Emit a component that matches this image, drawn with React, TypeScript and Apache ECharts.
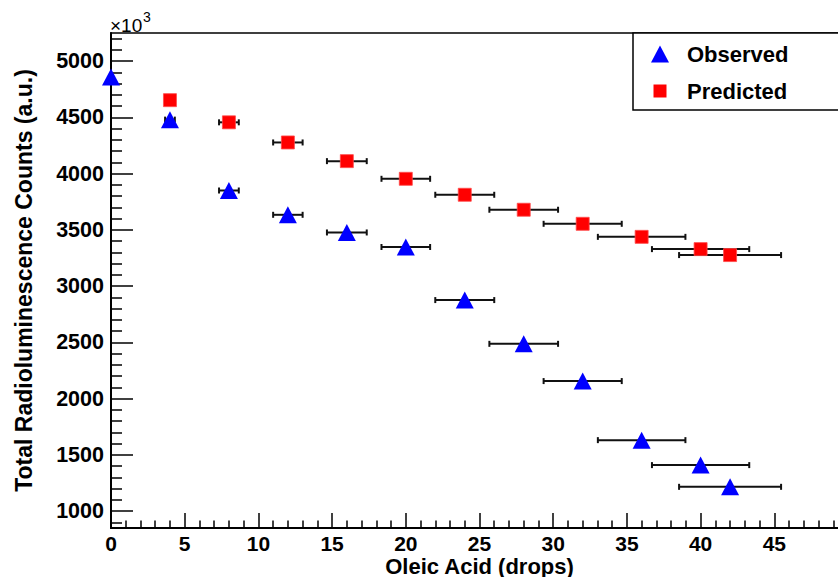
import React, { useEffect, useRef } from "react";
import * as echarts from "echarts";

const drops = [0, 4, 8, 12, 16, 20, 24, 28, 32, 36, 40, 42];
const dropErr = [0, 0.33, 0.67, 1.0, 1.35, 1.65, 2.0, 2.33, 2.65, 2.97, 3.3, 3.46];
const observed = [4860, 4480, 3850, 3634, 3477, 3348, 2876, 2487, 2156, 1631, 1409, 1216];
// predicted has no value at 0 drops
const predicted = [null, 4653, 4456, 4277, 4111, 3954, 3812, 3679, 3554, 3438, 3329, 3276];

const yMajorTicks = [1000, 1500, 2000, 2500, 3000, 3500, 4000, 4500, 5000];
const yMinorTicks: number[] = [];
for (let v = 900; v <= 5200; v += 100) if (v % 500 !== 0) yMinorTicks.push(v);
const xTickLabels = ["0", "5", "10", "15", "20", "25", "30", "35", "40", "45"];

const FONT = "'Liberation Sans', Arial, Helvetica, sans-serif";

function errBarSeries(name: string, vals: (number | null)[]) {
  const data = drops
    .map((x, i) => (vals[i] == null ? null : [x, vals[i], dropErr[i]]))
    .filter((d) => d !== null);
  return {
    type: "custom",
    name: name + " err",
    xAxisIndex: 0,
    yAxisIndex: 0,
    z: 1,
    silent: true,
    data,
    renderItem: (params: any, api: any) => {
      const x = api.value(0);
      const y = api.value(1);
      const e = api.value(2);
      if (!e) return null;
      const p1 = api.coord([x - e, y]);
      const p2 = api.coord([x + e, y]);
      const st = { stroke: "#111", lineWidth: 2 };
      return {
        type: "group",
        children: [
          { type: "line", shape: { x1: p1[0], y1: p1[1], x2: p2[0], y2: p2[1] }, style: st },
          { type: "line", shape: { x1: p1[0], y1: p1[1] - 3, x2: p1[0], y2: p1[1] + 3 }, style: st },
          { type: "line", shape: { x1: p2[0], y1: p2[1] - 3, x2: p2[0], y2: p2[1] + 3 }, style: st },
        ],
      };
    },
  };
}

export default function App() {
  const ref = useRef<HTMLDivElement>(null);
  useEffect(() => {
    if (!ref.current) return;
    const chart = echarts.init(ref.current, null, { renderer: "svg" });
    const obsData = drops.map((x, i) => [x, observed[i]]);
    const predData = drops
      .map((x, i) => (predicted[i] == null ? null : [x, predicted[i]]))
      .filter((d) => d !== null);
    chart.setOption({
      animation: false,
      backgroundColor: "#ffffff",
      grid: {
        left: 111,
        top: 33,
        width: 737,
        height: 495,
        outerBoundsMode: "none",
        containLabel: false,
        show: true,
        borderColor: "#000",
        borderWidth: 1.5,
        backgroundColor: "transparent",
      },
      xAxis: {
        type: "value",
        min: 0,
        max: 50,
        interval: 5,
        name: "Oleic Acid (drops)",
        nameLocation: "middle",
        nameGap: 27,
        nameMoveOverlap: false,
        nameTextStyle: { fontFamily: FONT, fontWeight: "bold", fontSize: 22, color: "#000" },
        axisLine: { show: true, onZero: false, lineStyle: { color: "#000", width: 2 } },
        axisTick: { show: true, inside: true, length: 15, lineStyle: { color: "#000", width: 1.5 } },
        minorTick: { show: true, splitNumber: 5, length: 7.5, lineStyle: { color: "#000", width: 1.5 } },
        splitLine: { show: false },
        minorSplitLine: { show: false },
        axisLabel: {
          margin: 5,
          fontFamily: FONT,
          fontWeight: "bold",
          fontSize: 21,
          color: "#000",
          formatter: (v: number) => {
            const s = String(v);
            return xTickLabels.includes(s) ? s : "";
          },
        },
      },
      yAxis: [
        {
          type: "value",
          min: 850,
          max: 5250,
          name: "Total Radioluminescence Counts (a.u.)",
          nameLocation: "middle",
          nameGap: 76,
          nameMoveOverlap: false,
          nameTextStyle: { fontFamily: FONT, fontWeight: "bold", fontSize: 23, color: "#000" },
          axisLine: { show: true, onZero: false, lineStyle: { color: "#000", width: 2 } },
          axisTick: {
            show: true,
            inside: true,
            length: 22,
            customValues: yMajorTicks,
            lineStyle: { color: "#000", width: 1.5 },
          },
          axisLabel: {
            margin: 7,
            customValues: yMajorTicks,
            fontFamily: FONT,
            fontWeight: "bold",
            fontSize: 21.5,
            color: "#000",
            formatter: (v: number) => String(v),
          },
          splitLine: { show: false },
        },
        {
          type: "value",
          min: 850,
          max: 5250,
          position: "left",
          axisLine: { show: false },
          axisTick: {
            show: true,
            inside: true,
            length: 11,
            customValues: yMinorTicks,
            lineStyle: { color: "#000", width: 1.5 },
          },
          axisLabel: { show: false, customValues: yMinorTicks },
          splitLine: { show: false },
        },
      ],
      series: [
        errBarSeries("Observed", observed),
        errBarSeries("Predicted", predicted),
        {
          type: "scatter",
          name: "Observed",
          symbol: "triangle",
          symbolSize: [18, 17],
          z: 3,
          itemStyle: { color: "#0000ff", opacity: 1 },
          data: obsData,
        },
        {
          type: "scatter",
          name: "Predicted",
          symbol: "rect",
          symbolSize: 13,
          z: 3,
          itemStyle: { color: "#ff0000", opacity: 1, borderColor: "#ff4a4a", borderWidth: 0.8 },
          data: predData,
        },
      ],
      graphic: [
        {
          type: "text",
          x: 110,
          y: 25.5,
          style: {
            text: "×10",
            fontFamily: FONT,
            fontSize: 19,
            fill: "#000",
            verticalAlign: "middle",
          },
        },
        {
          type: "text",
          x: 143,
          y: 17,
          style: {
            text: "3",
            fontFamily: FONT,
            fontSize: 14,
            fill: "#000",
            verticalAlign: "middle",
          },
        },
        {
          type: "rect",
          shape: { x: 633, y: 33, width: 260, height: 77 },
          style: { fill: "#fff", stroke: "#000", lineWidth: 1.5 },
          z: 10,
        },
        {
          type: "polygon",
          shape: { points: [[660, 45.5], [669, 62.5], [651, 62.5]] },
          style: { fill: "#0000ff" },
          z: 11,
        },
        {
          type: "rect",
          shape: { x: 653.5, y: 84.5, width: 13, height: 13 },
          style: { fill: "#ff0000" },
          z: 11,
        },
        {
          type: "text",
          x: 687,
          y: 54,
          style: {
            text: "Observed",
            fontFamily: FONT,
            fontWeight: "bold",
            fontSize: 22,
            fill: "#000",
            verticalAlign: "middle",
          },
          z: 11,
        },
        {
          type: "text",
          x: 687,
          y: 91,
          style: {
            text: "Predicted",
            fontFamily: FONT,
            fontWeight: "bold",
            fontSize: 22,
            fill: "#000",
            verticalAlign: "middle",
          },
          z: 11,
        },
      ],
    });
    return () => chart.dispose();
  }, []);
  return (
    <div
      ref={ref}
      style={{ position: "fixed", left: 0, top: 0, width: 838, height: 577, background: "#fff" }}
    />
  );
}
